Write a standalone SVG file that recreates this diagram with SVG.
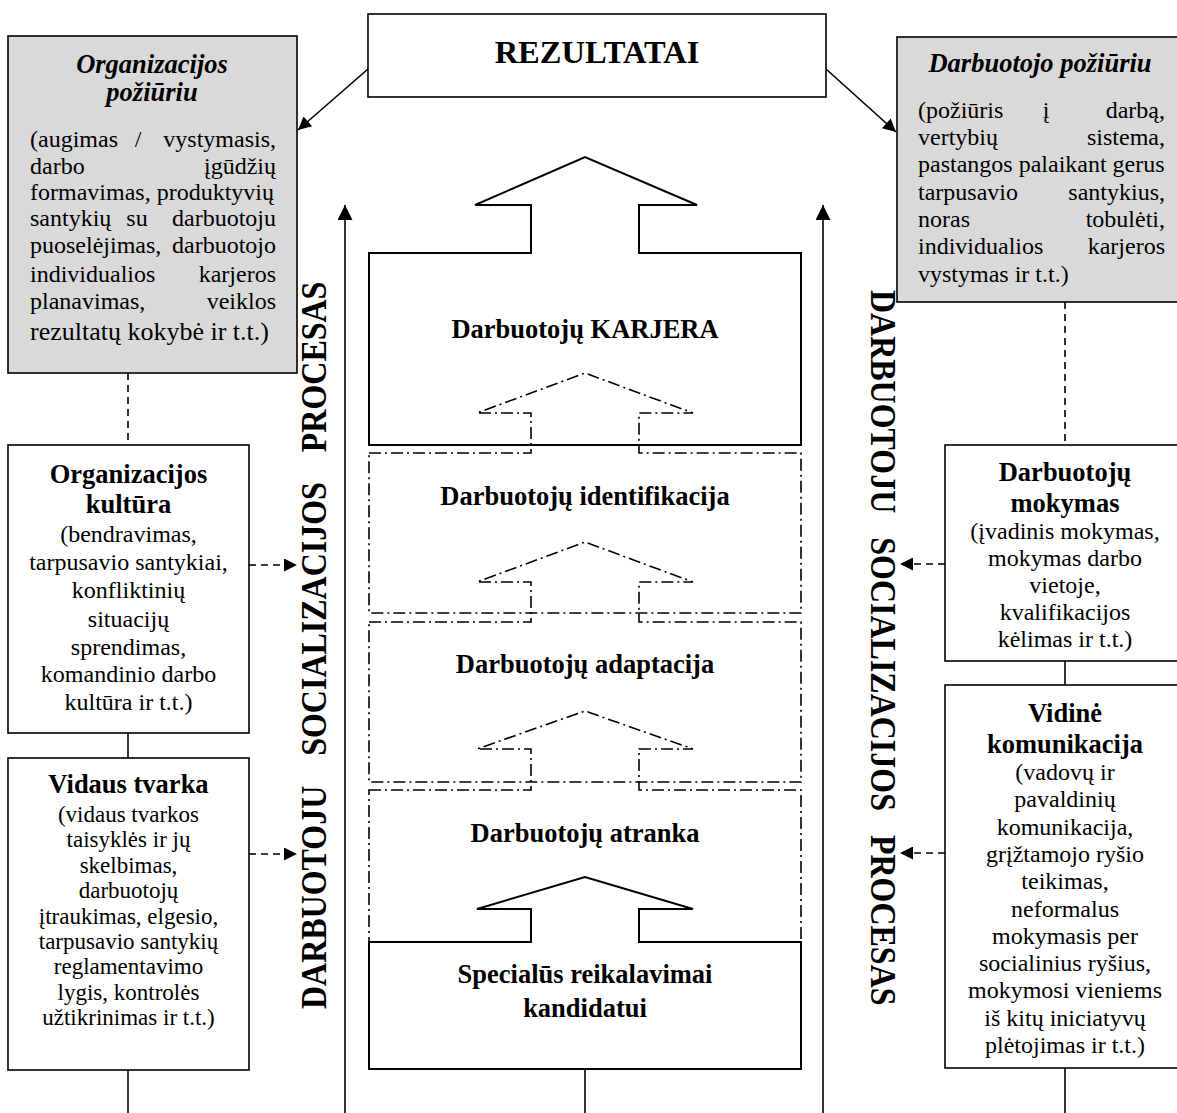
<svg xmlns="http://www.w3.org/2000/svg" width="1177" height="1113" viewBox="0 0 1177 1113">
<style>
text{font-family:"Liberation Serif","Times New Roman",serif;fill:#000}
.t{font-size:24px}
.t2{font-size:23px}
.b{font-size:26.5px;font-weight:bold}
.bi{font-size:26.5px;font-weight:bold;font-style:italic}
.v{font-size:35px;font-weight:bold}
.box{fill:#fff;stroke:#000;stroke-width:1.6}
.gray{fill:#d9d9d9;stroke:#000;stroke-width:1.6}
.solid{fill:#fff;stroke:#000;stroke-width:2}
.dd{fill:none;stroke:#000;stroke-width:1.6;stroke-dasharray:12 4 2 4}
.ln{stroke:#000;stroke-width:1.6;fill:none}
.dash{stroke:#000;stroke-width:1.6;fill:none;stroke-dasharray:7 5}
.m{text-anchor:middle}
.e{text-anchor:end}
</style>
<defs>
<marker id="ah" viewBox="0 0 10 10" refX="10" refY="5" markerWidth="15" markerHeight="13" orient="auto" markerUnits="userSpaceOnUse"><path d="M0,0 L10,5 L0,10 z" fill="#000"/></marker>
<marker id="av" viewBox="0 0 10 10" refX="10" refY="5" markerWidth="15" markerHeight="15" orient="auto" markerUnits="userSpaceOnUse"><path d="M0,0 L10,5 L0,10 z" fill="#000"/></marker>
<marker id="ad" viewBox="0 0 10 10" refX="10" refY="5" markerWidth="13" markerHeight="13" orient="auto" markerUnits="userSpaceOnUse"><path d="M0,0 L10,5 L0,10 z" fill="#000"/></marker>
</defs>

<g id="connectors">
<line class="ln" x1="368" y1="69" x2="298" y2="130" marker-end="url(#ah)"/>
<line class="ln" x1="826" y1="69" x2="896" y2="132" marker-end="url(#ah)"/>
<line class="ln" x1="345" y1="1113" x2="345" y2="205" stroke-width="2" marker-end="url(#av)"/>
<line class="ln" x1="823" y1="1113" x2="823" y2="205" stroke-width="2" marker-end="url(#av)"/>
<line class="dash" x1="128" y1="373" x2="128" y2="445"/>
<line class="ln" x1="128" y1="733" x2="128" y2="758"/>
<line class="ln" x1="128" y1="1070" x2="128" y2="1113"/>
<line class="dash" x1="1065" y1="302" x2="1065" y2="445"/>
<line class="ln" x1="1065" y1="661" x2="1065" y2="685"/>
<line class="ln" x1="1065" y1="1068" x2="1065" y2="1113"/>
<line class="ln" x1="585" y1="1069" x2="585" y2="1113"/>
<line class="dash" x1="249" y1="565" x2="297" y2="565" marker-end="url(#ad)"/>
<line class="dash" x1="249" y1="854" x2="297" y2="854" marker-end="url(#ad)"/>
<line class="dash" x1="945" y1="564" x2="900" y2="564" marker-end="url(#ad)"/>
<line class="dash" x1="945" y1="853" x2="900" y2="853" marker-end="url(#ad)"/>
</g>

<g id="rezultatai">
<rect class="box" x="368" y="14" width="458" height="83"/>
<text class="m" x="597" y="63" font-size="32.5" font-weight="bold">REZULTATAI</text>
</g>

<g id="org-poziuriu">
<rect class="gray" x="8" y="36" width="289" height="337"/>
<text class="bi m" x="152" y="73">Organizacijos</text>
<text class="bi m" x="152" y="101">požiūriu</text>
<text class="t"><tspan x="30" y="147">(augimas</tspan><tspan class="m" x="138" y="147">/</tspan><tspan class="e" x="276" y="147">vystymasis,</tspan></text>
<text class="t"><tspan x="30" y="174">darbo</tspan><tspan class="e" x="276" y="174">įgūdžių</tspan></text>
<text class="t" x="30" y="200">formavimas, produktyvių</text>
<text class="t"><tspan x="30" y="226">santykių</tspan><tspan class="m" x="137" y="226">su</tspan><tspan class="e" x="276" y="226">darbuotoju</tspan></text>
<text class="t"><tspan x="30" y="253">puoselėjimas,</tspan><tspan class="e" x="276" y="253">darbuotojo</tspan></text>
<text class="t"><tspan x="30" y="282">individualios</tspan><tspan class="e" x="276" y="282">karjeros</tspan></text>
<text class="t"><tspan x="30" y="309">planavimas,</tspan><tspan class="e" x="276" y="309">veiklos</tspan></text>
<text x="30" y="340" font-size="26">rezultatų kokybė ir t.t.)</text>
</g>

<g id="darb-poziuriu">
<rect class="gray" x="897" y="37" width="300" height="265"/>
<text class="bi m" x="1040" y="72">Darbuotojo požiūriu</text>
<text class="t"><tspan x="918" y="118">(požiūris</tspan><tspan class="m" x="1046" y="118">į</tspan><tspan class="e" x="1165" y="118">darbą,</tspan></text>
<text class="t"><tspan x="918" y="145">vertybių</tspan><tspan class="e" x="1165" y="145">sistema,</tspan></text>
<text class="t" x="918" y="172">pastangos palaikant gerus</text>
<text class="t"><tspan x="918" y="200">tarpusavio</tspan><tspan class="e" x="1165" y="200">santykius,</tspan></text>
<text class="t"><tspan x="918" y="227">noras</tspan><tspan class="e" x="1165" y="227">tobulėti,</tspan></text>
<text class="t"><tspan x="918" y="254">individualios</tspan><tspan class="e" x="1165" y="254">karjeros</tspan></text>
<text class="t" x="918" y="282">vystymas ir t.t.)</text>
</g>

<g id="org-kultura">
<rect class="box" x="8" y="445" width="241" height="288"/>
<text class="b m" x="128.5" y="483">Organizacijos</text>
<text class="b m" x="128.5" y="513">kultūra</text>
<text class="t m" x="128.5" y="542">(bendravimas,</text>
<text class="t m" x="128.5" y="570">tarpusavio santykiai,</text>
<text class="t m" x="128.5" y="598">konfliktinių</text>
<text class="t m" x="128.5" y="627">situacijų</text>
<text class="t m" x="128.5" y="655">sprendimas,</text>
<text class="t m" x="128.5" y="682">komandinio darbo</text>
<text class="t m" x="128.5" y="710">kultūra ir t.t.)</text>
</g>

<g id="vidaus-tvarka">
<rect class="box" x="8" y="758" width="241" height="312"/>
<text class="b m" x="128.5" y="793">Vidaus tvarka</text>
<text class="t2 m" x="128.5" y="822">(vidaus tvarkos</text>
<text class="t2 m" x="128.5" y="847.4">taisyklės ir jų</text>
<text class="t2 m" x="128.5" y="872.8">skelbimas,</text>
<text class="t2 m" x="128.5" y="898.2">darbuotojų</text>
<text class="t2 m" x="128.5" y="923.6">įtraukimas, elgesio,</text>
<text class="t2 m" x="128.5" y="949">tarpusavio santykių</text>
<text class="t2 m" x="128.5" y="974.4">reglamentavimo</text>
<text class="t2 m" x="128.5" y="999.8">lygis, kontrolės</text>
<text class="t2 m" x="128.5" y="1025.2">užtikrinimas ir t.t.)</text>
</g>

<g id="darb-mokymas">
<rect class="box" x="945" y="445" width="250" height="216"/>
<text class="b m" x="1065" y="481">Darbuotojų</text>
<text class="b m" x="1065" y="512">mokymas</text>
<text class="t m" x="1065" y="539">(įvadinis mokymas,</text>
<text class="t m" x="1065" y="566">mokymas darbo</text>
<text class="t m" x="1065" y="593">vietoje,</text>
<text class="t m" x="1065" y="620">kvalifikacijos</text>
<text class="t m" x="1065" y="647">kėlimas ir t.t.)</text>
</g>

<g id="vidine-komunikacija">
<rect class="box" x="945" y="685" width="250" height="383"/>
<text class="b m" x="1065" y="722">Vidinė</text>
<text class="b m" x="1065" y="753">komunikacija</text>
<text class="t m" x="1065" y="780">(vadovų ir</text>
<text class="t m" x="1065" y="807.3">pavaldinių</text>
<text class="t m" x="1065" y="834.6">komunikacija,</text>
<text class="t m" x="1065" y="862">grįžtamojo ryšio</text>
<text class="t m" x="1065" y="889">teikimas,</text>
<text class="t m" x="1065" y="916.5">neformalus</text>
<text class="t m" x="1065" y="944">mokymasis per</text>
<text class="t m" x="1065" y="971">socialinius ryšius,</text>
<text class="t m" x="1065" y="998.4">mokymosi vieniems</text>
<text class="t m" x="1065" y="1025.7">iš kitų iniciatyvų</text>
<text class="t m" x="1065" y="1053">plėtojimas ir t.t.)</text>
</g>

<g id="atranka">
<path class="dd" d="M369,790 H531 V749 H477 L585,711 L693,749 H639 V790 H801 V942 H369 Z"/>
<text class="b m" x="585" y="842">Darbuotojų atranka</text>
</g>

<g id="adaptacija">
<path class="dd" d="M369,622 H531 V582 H477 L585,542 L693,582 H639 V622 H801 V782 H369 Z"/>
<text class="b m" x="585" y="673">Darbuotojų adaptacija</text>
</g>

<g id="identifikacija">
<path class="dd" d="M369,453 H531 V413 H477 L585,373 L693,413 H639 V453 H801 V613 H369 Z"/>
<text class="b m" x="585" y="505">Darbuotojų identifikacija</text>
</g>

<g id="karjera">
<path class="solid" style="fill:none" d="M369,253 H531 V205 H475 L585,157 L697,205 H639 V253 H801 V445 H369 Z"/>
<text class="b m" x="585" y="338">Darbuotojų KARJERA</text>
</g>

<g id="specialus">
<path class="solid" d="M369,942 H531 V909 H477 L585,877 L693,909 H639 V942 H801 V1069 H369 Z"/>
<text class="b m" x="585" y="983">Specialūs reikalavimai</text>
<text class="b m" x="585" y="1017">kandidatui</text>
</g>

<g id="vertical-left">
<text class="v" transform="translate(326,1009) rotate(-90) scale(0.914,1)" word-spacing="24">DARBUOTOJU SOCIALIZACIJOS PROCESAS</text>
</g>
<g id="vertical-right">
<text class="v" transform="translate(871,290) rotate(90) scale(0.914,1)" word-spacing="17.5">DARBUOTOJU SOCIALIZACIJOS PROCESAS</text>
</g>
</svg>
